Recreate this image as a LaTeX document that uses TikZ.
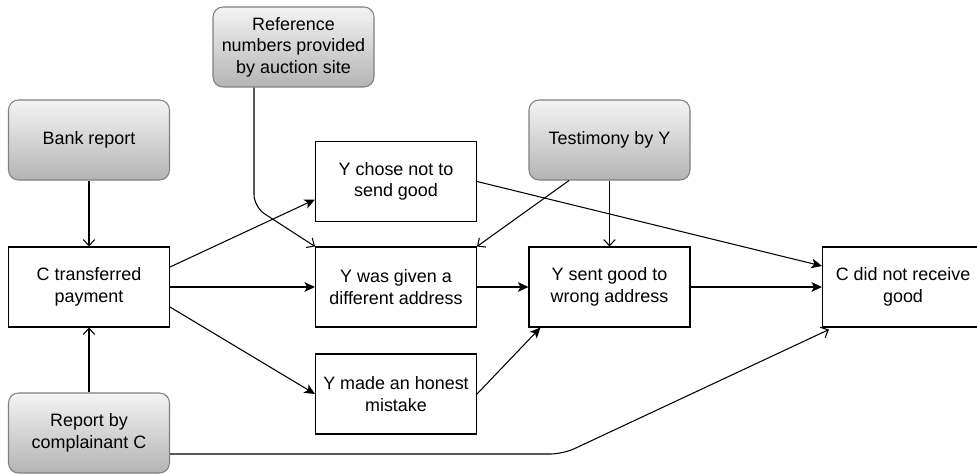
\documentclass[tikz,border=0pt]{standalone}
\usepackage{fontspec}
\setmainfont{Liberation Sans}
\usepackage{tikz}
\usetikzlibrary{shapes,arrows,positioning,calc,arrows.meta}

\definecolor{boxline}{HTML}{808080}
\definecolor{shadetop}{HTML}{F4F4F4}
\definecolor{shadebot}{HTML}{B4B4B4}

\begin{document}
\begin{tikzpicture}[
    font=\fontsize{10.2}{12.3}\selectfont,
    evidence/.style={draw=boxline, line width=0.6pt, rounded corners=0.2cm, top color=shadetop, bottom color=shadebot, minimum width=3.22cm, minimum height=1.6cm, inner sep=0pt, align=center},
    claim/.style={draw, line width=0.6pt, fill=white, minimum width=3.22cm, minimum height=1.6cm, inner sep=0pt, align=center},
    cause/.style={line width=0.6pt, -{Stealth[length=6pt,width=5.5pt,inset=1.5pt]}},
    support/.style={line width=0.6pt, -{Straight Barb[length=3.5pt,width=6.5pt]}, rounded corners=0.25cm}
]
    \useasboundingbox (0,0) rectangle (19.54,9.46);

    % Sources (evidence)
    \node[evidence] (ref) at (5.87,8.52) {Reference\\numbers provided\\by auction site};
    \node[evidence] (bank) at (1.78,6.66) {Bank report};
    \node[evidence] (testimony) at (12.19,6.66) {Testimony by Y};
    \node[evidence] (report) at (1.78,0.80) {Report by\\complainant C};

    % Events
    \node[claim] (chose) at (7.92,5.83) {Y chose not to\\send good};
    \node[claim] (paid) at (1.78,3.72) {C transferred\\payment};
    \node[claim] (given) at (7.92,3.72) {Y was given a\\different address};
    \node[claim] (sent) at (12.19,3.72) {Y sent good to\\wrong address};
    \node[claim] (notrecv) at (18.06,3.72) {C did not receive\\good};
    \node[claim] (honest) at (7.92,1.58) {Y made an honest\\mistake};

    % Bends of the long links
    \coordinate (refbend) at (5.08,5.32);
    \coordinate (repbend) at (11.26,0.38);

    % Causal links
    \draw[cause] ($(paid.east)+(0,0.4)$) -- ($(chose.west)+(0,-0.36)$);
    \draw[cause] (paid) -- (given);
    \draw[cause] ($(paid.east)+(0,-0.4)$) -- (honest.west);
    \draw[cause] (chose.east) -- ($(notrecv.west)+(0,0.42)$);
    \draw[cause] (given) -- (sent);
    \draw[cause] (honest.east) -- ($(sent.south west)+(0.24,0)$);
    \draw[cause] (sent) -- (notrecv);

    % Evidence links
    \draw[support] (bank) -- (paid);
    \draw[support] (report) -- (paid);
    \draw[support] (ref.south -| refbend) -- (refbend) -- (given.north west);
    \draw[support] ($(testimony.south)+(-0.81,0)$) -- (given.north east);
    \draw[support] (testimony) -- (sent);
    \draw[support] (report.east |- repbend) -- (repbend) -- ($(notrecv.south west)+(0.14,-0.04)$);

\end{tikzpicture}
\end{document}
